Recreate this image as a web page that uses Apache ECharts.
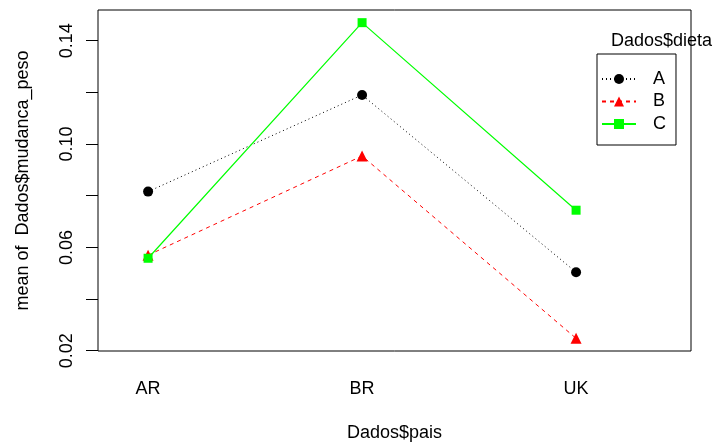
<!DOCTYPE html>
<html>
<head>
<meta charset="UTF-8">
<title>interaction plot</title>
<script src="https://cdn.jsdelivr.net/npm/echarts@6/dist/echarts.min.js"></script>
</head>
<body style="margin:0;background:#fff">
<div id="main" style="width:719px;height:442px"></div>
<script>
// medias de mudanca_peso por pais e dieta
var pais = ['AR', 'BR', 'UK'];
var dietas = ['A', 'B', 'C'];
var dietaA = [0.0816, 0.1190, 0.0504];
var dietaB = [0.0570, 0.0954, 0.0248];
var dietaC = [0.0558, 0.1470, 0.0744];
var yTicks = [0.02, 0.04, 0.06, 0.08, 0.10, 0.12, 0.14];
var yLabels = [0.02, 0.06, 0.10, 0.14];

var fonte = "'Liberation Sans', Arial, sans-serif";

function pontos(vals) {
    var out = [];
    for (var i = 0; i < vals.length; i++) {
        out.push([i + 1, vals[i]]);
    }
    return out;
}

var myChart = echarts.init(document.getElementById('main'));

var option = {
    animation: false,
    textStyle: { fontFamily: fonte, color: '#000' },
    grid: {
        left: 98, right: 28, top: 10, bottom: 91,
        outerBoundsMode: 'none',
        show: true, borderColor: '#000', borderWidth: 1
    },
    title: {
        text: 'Dados$dieta',
        left: 611, top: 32, padding: 0,
        textStyle: { fontFamily: fonte, fontSize: 18, fontWeight: 'normal', color: '#000' }
    },
    legend: {
        data: dietas,
        orient: 'vertical',
        left: 597, top: 54,
        padding: [16, 10, 12, 4],
        itemGap: 4.5,
        itemWidth: 34,
        itemHeight: 12.5,
        borderColor: '#000',
        borderWidth: 1,
        textStyle: { fontFamily: fonte, fontSize: 18, color: '#000', padding: [0, 0, 0, 12] }
    },
    xAxis: {
        type: 'value',
        min: 0.766, max: 3.537,
        name: 'Dados$pais',
        nameLocation: 'middle',
        nameGap: 73,
        nameTextStyle: { fontFamily: fonte, fontSize: 18, color: '#000' },
        axisLine: { show: false },
        axisTick: { show: false },
        splitLine: { show: false },
        axisLabel: {
            customValues: [1, 2, 3],
            margin: 29,
            fontSize: 18, color: '#000',
            formatter: function (v) { return pais[Math.round(v) - 1]; }
        }
    },
    yAxis: {
        type: 'value',
        min: 0.0199, max: 0.1519,
        name: 'mean of  Dados$mudanca_peso',
        nameLocation: 'middle',
        nameGap: 66,
        nameTextStyle: { fontFamily: fonte, fontSize: 18, color: '#000' },
        axisLine: { show: false },
        splitLine: { show: false },
        axisTick: {
            customValues: yTicks,
            length: 12,
            lineStyle: { color: '#000', width: 1 }
        },
        axisLabel: {
            customValues: yLabels,
            rotate: 90,
            margin: 22,
            fontSize: 18, color: '#000',
            formatter: function (v) { return v.toFixed(2); }
        }
    },
    series: [{
        name: 'A',
        type: 'line',
        data: pontos(dietaA),
        symbol: 'circle',
        symbolSize: 10,
        itemStyle: { color: '#000' },
        lineStyle: { color: '#000', width: 1, type: [1, 3] }
    }, {
        name: 'B',
        type: 'line',
        data: pontos(dietaB),
        symbol: 'triangle',
        symbolSize: 11,
        itemStyle: { color: '#ff0000' },
        lineStyle: { color: '#ff0000', width: 1, type: [4, 4] }
    }, {
        name: 'C',
        type: 'line',
        data: pontos(dietaC),
        symbol: 'rect',
        symbolSize: 9,
        itemStyle: { color: '#00ff00' },
        lineStyle: { color: '#00ff00', width: 1.2, type: 'solid' }
    }]
};

myChart.setOption(option);
</script>
</body>
</html>
